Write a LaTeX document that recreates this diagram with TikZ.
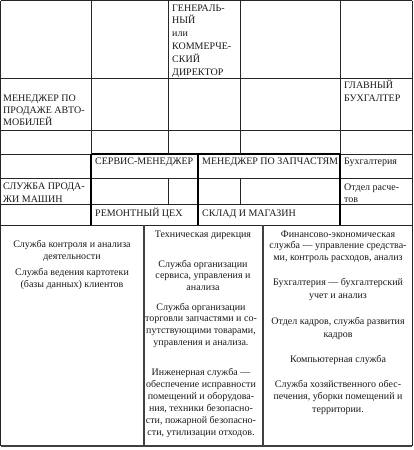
\documentclass[tikz,border=0pt]{standalone}
\usepackage{fontspec}
\setmainfont{Liberation Serif}
\begin{document}
\begin{tikzpicture}[x=1pt,y=-1pt,
  thinline/.style={line width=0.8pt, draw=black!85},
  thickline/.style={line width=1.5pt, draw=black},
  lowline/.style={line width=1.2pt, draw=black!75},
  cell/.style={anchor=base west, inner sep=0pt, align=left, font=\fontsize{10}{12}\selectfont, text=black!90},
  para/.style={anchor=base, inner sep=0pt, align=center, font=\fontsize{10}{11.8}\selectfont, text=black!90},
]
\useasboundingbox (0,0) rectangle (413,450);
% horizontal lines, upper grid
\draw[thinline] (0.5,0.5) -- (412,0.5);
\draw[thinline] (0.5,78) -- (412,78);
\draw[thinline] (0.5,130) -- (412,130);
\draw[thinline] (0.5,154) -- (91,154);
\draw[thickline] (91,154) -- (340,154);
\draw[thinline] (340,154) -- (412,154);
\draw[thinline] (0.5,178) -- (412,178);
\draw[thinline] (0.5,204) -- (412,204);
\draw[thinline] (0.5,225) -- (412,225);
% vertical lines, upper grid
\draw[thinline] (91,0.5) -- (91,154);
\draw[thickline] (91,154) -- (91,225);
\draw[thinline] (168,0.5) -- (168,154);
\draw[thinline] (168,178) -- (168,204);
\draw[thickline] (198,154) -- (198,225);
\draw[thinline] (240,0.5) -- (240,154);
\draw[thinline] (240,178) -- (240,204);
\draw[thinline] (340,0.5) -- (340,154);
\draw[thickline] (340,154) -- (340,225);
% outer frame
\draw[thinline] (0.5,0.5) -- (0.5,446);
\draw[thinline] (412,0.5) -- (412,446);
\draw[lowline] (0.5,446) -- (412,446);
% lower columns
\draw[lowline] (144,225) -- (144,446);
\draw[lowline] (263,225) -- (263,446);

% upper cell texts (anchor = baseline of the last line)
\node[cell, font=\fontsize{10}{12.8}\selectfont] (gen) at (172,75) {ГЕНЕРАЛЬ-\\НЫЙ\\или\\КОММЕРЧЕ-\\СКИЙ\\ДИРЕКТОР};
\node[cell, font=\fontsize{10}{11.8}\selectfont] (mgrauto) at (3,125.1) {МЕНЕДЖЕР ПО\\ПРОДАЖЕ АВТО-\\МОБИЛЕЙ};
\node[cell, font=\fontsize{10}{12.5}\selectfont] (glbuh) at (344,101) {ГЛАВНЫЙ\\БУХГАЛТЕР};
\node[cell] (servis) at (95,164) {СЕРВИС-МЕНЕДЖЕР};
\node[cell] (zap) at (202,164) {МЕНЕДЖЕР ПО ЗАПЧАСТЯМ};
\node[cell] (buh) at (344,164) {Бухгалтерия};
\node[cell, font=\fontsize{10}{13}\selectfont] (sluzh) at (3,202) {СЛУЖБА ПРОДА-\\ЖИ МАШИН};
\node[cell] (otdel) at (344,202) {Отдел расче-\\тов};
\node[cell] (rem) at (95,216) {РЕМОНТНЫЙ ЦЕХ};
\node[cell] (sklad) at (202,216) {СКЛАД И МАГАЗИН};

% lower texts (anchor = baseline of the last line)
\node[para] (l1) at (72,259.3) {Служба контроля и анализа\\деятельности};
\node[para] (l2) at (72,287.3) {Служба ведения картотеки\\(базы данных) клиентов};
\node[para] (m1) at (203,237) {Техническая дирекция};
\node[para] (m2) at (203,290.6) {Служба организации\\сервиса, управления и\\анализа};
\node[para] (m3) at (201,345.4) {Служба организации\\торговли запчастями и со-\\путствующими товарами,\\управления и анализа.};
\node[para, font=\fontsize{10}{12}\selectfont] (m4) at (201,435) {Инженерная служба —\\обеспечение исправности\\помещений и оборудова-\\ния, техники безопасно-\\сти, пожарной безопасно-\\сти, утилизации отходов.};
\node[para] (r1) at (338,260.6) {Финансово-экономическая\\служба — управление средства-\\ми, контроль расходов, анализ};
\node[para, font=\fontsize{10}{13}\selectfont] (r2) at (338,298) {Бухгалтерия — бухгалтерский\\учет и анализ};
\node[para, font=\fontsize{10}{13}\selectfont] (r3) at (338,337) {Отдел кадров, служба развития\\кадров};
\node[para] (r4) at (338,362) {Компьютерная служба};
\node[para, font=\fontsize{10}{12.5}\selectfont] (r5) at (338,412) {Служба хозяйственного обес-\\печения, уборки помещений и\\территории.};
\end{tikzpicture}
\end{document}
